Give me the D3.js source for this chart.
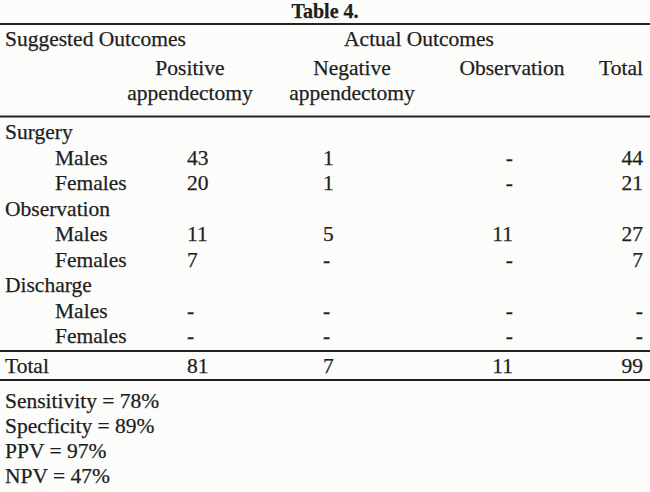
<!DOCTYPE html>
<html lang="en">
<head>
<meta charset="UTF-8">
<title>Table 4.</title>
<script src="https://d3js.org/d3.v7.min.js"></script>
<style>
    body {
        margin: 0;
        background: #fcfcfa;
        overflow: hidden;
    }
    svg text {
        font-family: "Liberation Serif", "Times New Roman", serif;
        font-size: 21.5px;
        fill: #1e1e1e;
        stroke: #1e1e1e;
        stroke-width: 0.25px;
    }
    .rule {
        stroke: #222;
        stroke-width: 2.2px;
    }
</style>
</head>
<body>
<div id="table"></div>
<script>
    // table content
    const title = "Table 4.";
    const groupHeaders = ["Suggested Outcomes", "Actual Outcomes"];
    const columns = [
        ["Positive", "appendectomy"],
        ["Negative", "appendectomy"],
        ["Observation"],
        ["Total"]
    ];
    const rowLabels = ["Surgery", "Males", "Females", "Observation", "Males", "Females", "Discharge", "Males", "Females"];
    const rowIndent = [0, 1, 1, 0, 1, 1, 0, 1, 1];
    const positive    = ["", "43", "20", "", "11", "7", "", "-", "-"];
    const negative    = ["", "1", "1", "", "5", "-", "", "-", "-"];
    const observation = ["", "-", "-", "", "11", "-", "", "-", "-"];
    const total       = ["", "44", "21", "", "27", "7", "", "-", "-"];
    const totalRow = ["Total", "81", "7", "11", "99"];
    const stats = ["Sensitivity = 78%", "Specficity = 89%", "PPV = 97%", "NPV = 47%"];

    const width = 650, height = 492;
    const svg = d3.select("#table").append("svg")
        .attr("width", width)
        .attr("height", height);

    // column anchors: header centre, value anchor + alignment
    const colHead = [190, 352, 512, 621];
    const colVal = [
        { x: 187, anchor: "start" },
        { x: 323, anchor: "start" },
        { x: 513, anchor: "end" },
        { x: 643, anchor: "end" }
    ];
    const valueCols = [positive, negative, observation, total];

    const rowY = d3.scaleLinear().domain([0, rowLabels.length - 1]).range([139, 343]);
    const statY = d3.scaleLinear().domain([0, stats.length - 1]).range([408, 483]);

    // title
    svg.append("text")
        .attr("x", 325).attr("y", 18)
        .attr("text-anchor", "middle")
        .style("font-weight", "bold")
        .style("font-size", "20px")
        .text(title);

    // horizontal rules
    const rules = [24, 116.5, 351, 380];
    svg.selectAll(".rule")
        .data(rules)
        .enter().append("line")
        .attr("class", "rule")
        .attr("x1", 0).attr("x2", width)
        .attr("y1", d => d).attr("y2", d => d);

    // group headers
    svg.append("text").attr("x", 5).attr("y", 46).text(groupHeaders[0]);
    svg.append("text").attr("x", 419).attr("y", 46)
        .attr("text-anchor", "middle").text(groupHeaders[1]);

    // column headers
    columns.forEach((lines, i) => {
        const t = svg.append("text")
            .attr("x", colHead[i]).attr("y", 75)
            .attr("text-anchor", "middle");
        lines.forEach((l, j) => {
            t.append("tspan")
                .attr("x", colHead[i])
                .attr("dy", j === 0 ? 0 : 25)
                .text(l);
        });
    });

    // row labels
    svg.selectAll(".row-label")
        .data(rowLabels)
        .enter().append("text")
        .attr("class", "row-label")
        .attr("x", (d, i) => rowIndent[i] ? 55 : 5)
        .attr("y", (d, i) => rowY(i))
        .text(d => d);

    // values
    valueCols.forEach((vals, c) => {
        svg.selectAll(".val-" + c)
            .data(vals)
            .enter().append("text")
            .attr("class", "val-" + c)
            .attr("x", colVal[c].x)
            .attr("y", (d, i) => rowY(i))
            .attr("text-anchor", colVal[c].anchor)
            .text(d => d);
    });

    // total row
    svg.append("text").attr("x", 5).attr("y", 373).text(totalRow[0]);
    totalRow.slice(1).forEach((v, c) => {
        svg.append("text")
            .attr("x", colVal[c].x).attr("y", 373)
            .attr("text-anchor", colVal[c].anchor)
            .text(v);
    });

    // statistics
    svg.selectAll(".stat")
        .data(stats)
        .enter().append("text")
        .attr("class", "stat")
        .attr("x", 5)
        .attr("y", (d, i) => statY(i))
        .text(d => d);
</script>
</body>
</html>
